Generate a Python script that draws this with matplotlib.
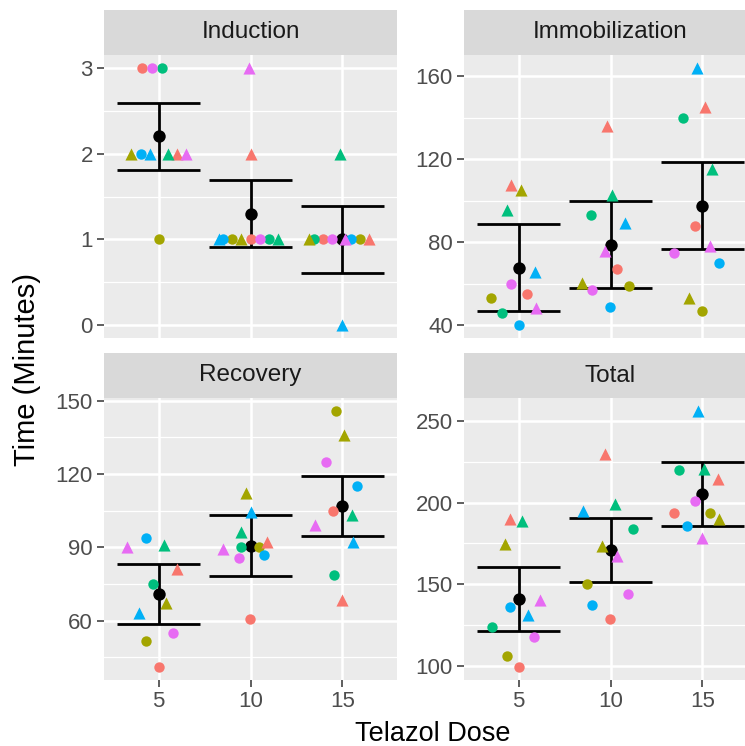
import numpy as np
import matplotlib
matplotlib.use("Agg")
import matplotlib.pyplot as plt

plt.rcParams['font.family'] = ['Liberation Sans', 'DejaVu Sans']

# ten animals: 5 colours x 2 shapes (circle / triangle)
doses = [5, 10, 15]
colors = ["#F8766D", "#A3A500", "#00BF7D", "#00B0F6", "#E76BF3"] * 2
shapes = ["o"] * 5 + ["^"] * 5

# rows = dose 5, 10, 15 ; columns = animals in the order above
induction_y = [[3, 1, 3, 2, 3, 2, 2, 2, 2, 2],
               [1, 1, 1, 1, 1, 2, 1, 1, 1, 3],
               [1, 1, 1, 1, 1, 1, 1, 2, 0, 1]]
induction_x = [[4.11, 5.0, 5.18, 4.02, 4.64, 5.99, 3.48, 5.51, 4.55, 6.5],
               [10.0, 8.98, 10.98, 8.5, 10.49, 10.0, 9.49, 11.48, 8.26, 9.9],
               [13.97, 15.98, 13.48, 15.47, 14.44, 16.47, 13.17, 14.89, 14.98, 15.16]]

immob_y = [[55, 53, 45.8, 40, 59.8, 107.7, 105.3, 95.7, 65.4, 48.5],
           [67, 59, 92.9, 48.9, 56.7, 136.2, 60.3, 102.6, 89.2, 75.6],
           [88, 47, 139.9, 70, 74.7, 145, 53, 115.3, 164, 78]]
immob_x = [[5.47, 3.52, 4.11, 5.0, 4.6, 4.6, 5.15, 4.36, 5.87, 5.96],
           [10.36, 10.98, 8.95, 9.98, 8.98, 9.8, 8.46, 10.07, 10.8, 9.71],
           [14.58, 14.97, 13.93, 15.89, 13.44, 15.15, 14.26, 15.5, 14.71, 15.43]]

recovery_y = [[40.9, 51.8, 75, 93.8, 55, 81.1, 67.2, 91.1, 63.1, 90.1],
              [60.8, 90, 90, 86.7, 85.6, 92.2, 112.2, 96.1, 104.3, 89.3],
              [104.7, 145.9, 78.8, 115, 124.9, 68.3, 136.1, 103.4, 92.2, 99.3]]
recovery_x = [[5.0, 4.33, 4.69, 4.33, 5.78, 5.99, 5.38, 5.29, 3.91, 3.3],
              [9.98, 10.45, 9.49, 10.72, 9.4, 10.89, 9.73, 9.46, 10.04, 8.5],
              [14.47, 14.66, 14.57, 15.78, 14.13, 14.98, 15.07, 15.5, 15.6, 13.53]]

total_y = [[99, 105.7, 123.6, 135.8, 117.7, 190.2, 174.5, 188.8, 130.8, 140.3],
           [128.7, 150, 183.7, 136.9, 143.8, 229.9, 173.3, 199.4, 194.7, 167.4],
           [193.9, 193.9, 219.8, 185.7, 200.8, 214.3, 190.2, 220.4, 256.3, 178]]
total_x = [[5.0, 4.36, 3.57, 4.55, 5.82, 4.51, 4.28, 5.18, 5.51, 6.14],
           [9.98, 8.73, 11.25, 9.0, 10.94, 9.71, 9.55, 10.22, 8.5, 10.36],
           [13.48, 15.43, 13.75, 14.15, 14.62, 15.87, 15.92, 15.11, 14.74, 14.96]]

# half width of the confidence interval drawn on each panel
ci_half = {"Induction": 0.39, "Immobilization": 21.0, "Recovery": 12.4, "Total": 19.6}

yticks = {"Induction": ([0, 1, 2, 3], [0.5, 1.5, 2.5]),
          "Immobilization": ([40, 80, 120, 160], [60, 100, 140]),
          "Recovery": ([60, 90, 120, 150], [45, 75, 105, 135]),
          "Total": ([100, 150, 200, 250], [125, 175, 225])}

panels = [("Induction", induction_x, induction_y),
          ("Immobilization", immob_x, immob_y),
          ("Recovery", recovery_x, recovery_y),
          ("Total", total_x, total_y)]

W, H = 745, 746
fig = plt.figure(figsize=(W / 100, H / 100), dpi=100)

# panel boxes in pixels: left, right, strip top, panel top, panel bottom
lefts = [104, 464]
pw = 293
rows = [(10, 55, 338), (353, 398, 680)]

cap = 2.25
for k, (name, xs, ys) in enumerate(panels):
    r, c = divmod(k, 2)
    st, pt, pb = rows[r]
    x0 = lefts[c]
    ax = fig.add_axes([x0 / W, 1 - pb / H, pw / W, (pb - pt) / H])
    sax = fig.add_axes([x0 / W, 1 - pt / H, pw / W, (pt - st) / H])
    sax.set_facecolor("#D9D9D9")
    sax.set_xticks([]); sax.set_yticks([])
    for s in sax.spines.values():
        s.set_visible(False)
    sax.text(0.5, 0.5, name, ha="center", va="center", fontsize=17.5,
             color="#1A1A1A", transform=sax.transAxes)

    ax.set_facecolor("#EBEBEB")
    for s in ax.spines.values():
        s.set_visible(False)
    major, minor = yticks[name]
    for v in minor:
        ax.axhline(v, color="white", lw=0.9, zorder=0)
    for v in major:
        ax.axhline(v, color="white", lw=1.8, zorder=0)
    for d in doses:
        ax.axvline(d, color="white", lw=1.8, zorder=0)

    ys_arr = np.array(ys, dtype=float)
    means = ys_arr.mean(axis=1)
    h = ci_half[name]
    ax.vlines(doses, means - h, means + h, color="black", lw=2, zorder=2)
    ax.hlines(means - h, np.array(doses) - cap, np.array(doses) + cap, color="black", lw=2, zorder=2)
    ax.hlines(means + h, np.array(doses) - cap, np.array(doses) + cap, color="black", lw=2, zorder=2)
    ax.scatter(doses, means, s=80, color="black", zorder=3, linewidths=0)

    for i in range(3):
        for j in range(10):
            sz = 56 if shapes[j] == "o" else 76
            ax.scatter(xs[i][j], ys[i][j], s=sz, marker=shapes[j], color=colors[j],
                       linewidths=0, zorder=4)

    lo = min(ys_arr.min(), (means - h).min())
    hi = max(ys_arr.max(), (means + h).max())
    pad = (hi - lo) * 0.05
    ax.set_ylim(lo - pad, hi + pad)
    ax.set_xlim(2.75 - 0.725, 17.25 + 0.725)
    ax.set_yticks(major)
    ax.tick_params(axis="y", length=5, width=1.1, color="#333333", labelsize=16,
                   labelcolor="#4D4D4D", pad=3)
    if r == 1:
        ax.set_xticks(doses)
        ax.tick_params(axis="x", length=5, width=1.1, color="#333333", labelsize=16,
                       labelcolor="#4D4D4D", pad=3)
    else:
        ax.set_xticks([])

fig.text(433 / W, 1 - 741 / H, "Telazol Dose", ha="center", va="baseline", fontsize=19.5)
fig.text(27 / W, 1 - 369 / H, "Time (Minutes)", ha="center", va="center",
         fontsize=21, rotation=90)

fig.savefig("out.png", dpi=100)
